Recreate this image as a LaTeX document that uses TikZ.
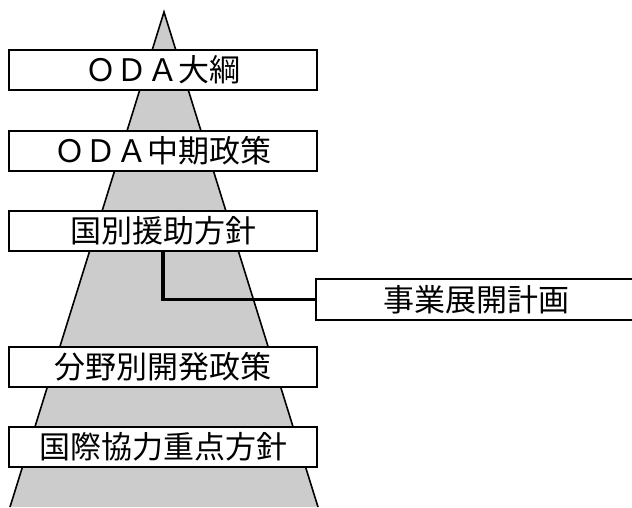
\documentclass[tikz,border=0pt]{standalone}
\usepackage{fontspec}
\newfontfamily\jp{Noto Sans CJK JP}
\begin{document}
\begin{tikzpicture}[x=1pt,y=-1pt,
  level/.style={draw=black, line width=2pt, fill=white, minimum width=308pt, minimum height=40pt, inner sep=0pt, font=\jp\fontsize{31}{32}\selectfont},
  link/.style={line width=3.4pt}]
\useasboundingbox (0,0) rectangle (632,507);
\fill[black!20] (164,12) -- (318,507) -- (10,507) -- cycle;
\draw[line width=1.6pt] (10,507) -- (164,12) -- (318,507);
\node[level] (b1) at (163,70) {ＯＤＡ大綱};
\node[level] (b2) at (163,151) {ＯＤＡ中期政策};
\node[level] (b3) at (163,231) {国別援助方針};
\node[level, minimum width=320pt, minimum height=41pt] (b4) at (476,299.5) {事業展開計画};
\node[level] (b5) at (163,367) {分野別開発政策};
\node[level] (b6) at (163,447) {国際協力重点方針};
\draw[link] (b3.south) |- (b4.west);
\end{tikzpicture}
\end{document}
